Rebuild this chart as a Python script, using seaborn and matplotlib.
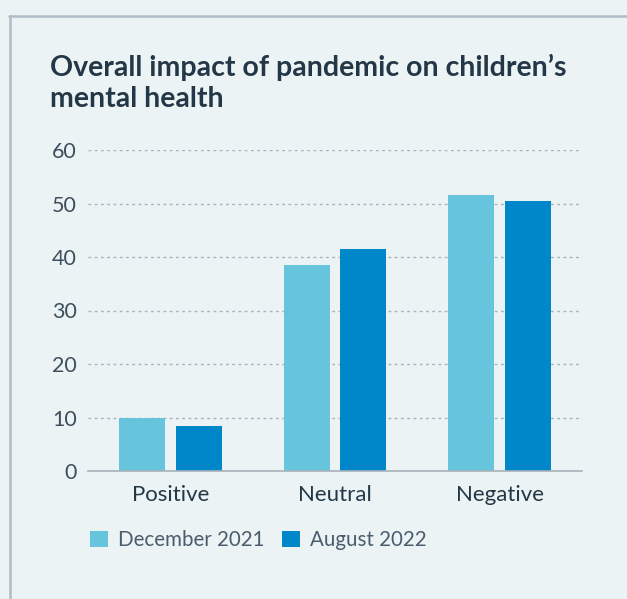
import matplotlib
matplotlib.use("Agg")
import matplotlib.pyplot as plt
from matplotlib.lines import Line2D
from matplotlib.patches import Patch
import numpy as np
import pandas as pd
import seaborn as sns

# Data
categories = ["Positive", "Neutral", "Negative"]
series_names = ["December 2021", "August 2022"]
dec_2021 = [10, 38.5, 51.5]
aug_2022 = [8.5, 41.5, 50.5]
y_ticks = [0, 10, 20, 30, 40, 50, 60]

bg = "#ebf3f5"
colors = ["#66c4dc", "#0087c9"]
navy = "#243746"

df = pd.DataFrame({
    "impact": categories * 2,
    "period": [series_names[0]] * 3 + [series_names[1]] * 3,
    "value": dec_2021 + aug_2022,
})

sns.set_theme(style="white")
plt.rcParams["font.family"] = ["Lato", "DejaVu Sans"]

fig = plt.figure(figsize=(6.27, 5.99), dpi=100, facecolor=bg)
ax = fig.add_axes([88 / 627, 1 - 471 / 599, 494 / 627, 321 / 599])
ax.set_facecolor(bg)

sns.barplot(data=df, x="impact", y="value", hue="period", order=categories,
            hue_order=series_names, palette=colors, width=0.69, gap=0.19,
            saturation=1, linewidth=0, legend=False, ax=ax)

ax.set_ylim(0, 60)
ax.set_xlim(-0.5, 2.5)
ax.set_yticks(y_ticks)
ax.set_xlabel("")
ax.set_ylabel("")
ax.yaxis.grid(True, linestyle=(0, (2, 2.5)), color="#a9b3ba", linewidth=1)
ax.set_axisbelow(True)
for s in ["top", "right", "left"]:
    ax.spines[s].set_visible(False)
ax.spines["bottom"].set_color("#a8b2b9")
ax.spines["bottom"].set_linewidth(1.2)
ax.tick_params(axis="y", length=0, pad=8, labelsize=15.5, labelcolor="#3d4f5c")
ax.tick_params(axis="x", length=0, pad=10, labelsize=16, labelcolor=navy)

# Title
fig.text(50 / 627, 1 - 76 / 599, "Overall impact of pandemic on children\u2019s",
         fontsize=20.5, fontweight="bold", color=navy, va="baseline")
fig.text(50 / 627, 1 - 107 / 599, "mental health",
         fontsize=20.5, fontweight="bold", color=navy, va="baseline")

# Legend
handles = [Patch(facecolor=c, edgecolor="none") for c in colors]
fig.legend(handles, series_names, loc="upper left",
           bbox_to_anchor=(90 / 627, 1 - 530 / 599), ncol=2, frameon=False,
           fontsize=14.8, labelcolor="#4a5d6c", handlelength=0.88,
           handleheight=0.88, handletextpad=0.49, columnspacing=0.83,
           borderpad=0, borderaxespad=0)

# Card border
fig.add_artist(Line2D([9 / 627, 1], [1 - 16 / 599, 1 - 16 / 599],
                      transform=fig.transFigure, color="#b0bcc6", linewidth=1.8))
fig.add_artist(Line2D([10 / 627, 10 / 627], [1 - 16 / 599, 0],
                      transform=fig.transFigure, color="#b0bcc6", linewidth=1.8))

fig.savefig("out.png", dpi=100, facecolor=bg)
